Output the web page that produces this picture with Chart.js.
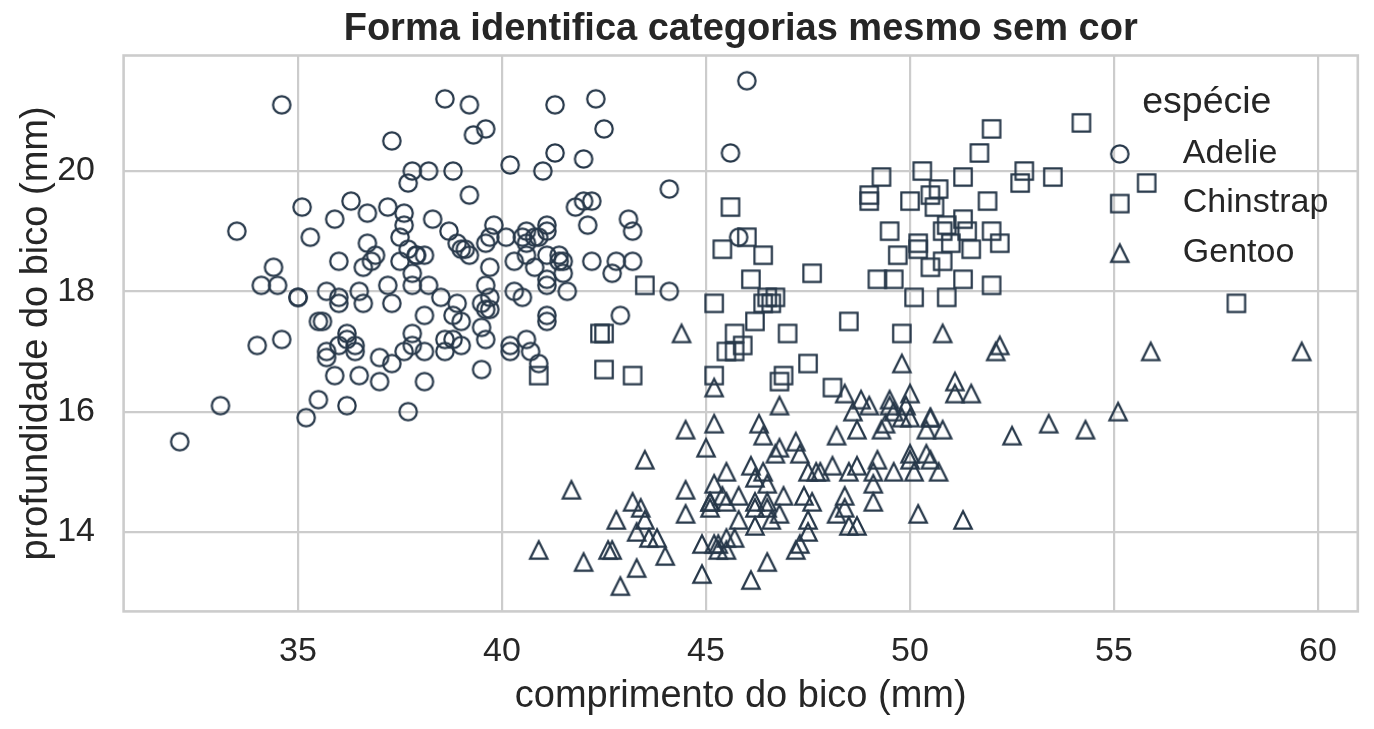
<!DOCTYPE html>
<html lang="pt">
<head>
<meta charset="utf-8">
<title>Forma identifica categorias mesmo sem cor</title>
<script src="https://cdn.jsdelivr.net/npm/chart.js@4.4.1/dist/chart.umd.min.js"></script>
<style>
  html, body { margin: 0; padding: 0; background: #ffffff; overflow: hidden; }
  canvas { display: block; }
</style>
</head>
<body>
<canvas id="penguinChart" width="1374" height="729"></canvas>
<script>
// comprimento x profundidade do bico, por espécie
const adelieLength = [39.1, 39.5, 40.3, 36.7, 39.3, 38.9, 39.2, 34.1, 42.0, 37.8, 37.8, 41.1, 38.6, 34.6, 36.6, 38.7, 42.5, 34.4, 46.0, 37.8,
  37.7, 35.9, 38.2, 38.8, 35.3, 40.6, 40.5, 37.9, 40.5, 39.5, 37.2, 39.5, 40.9, 36.4, 39.2, 38.8, 42.2, 37.6, 39.8, 36.5,
  40.8, 36.0, 44.1, 37.0, 39.6, 41.1, 37.5, 36.0, 42.3, 39.6, 40.1, 35.0, 42.0, 34.5, 41.4, 39.0, 40.6, 36.5, 37.6, 35.7,
  41.3, 37.6, 41.1, 36.4, 41.6, 35.5, 41.1, 35.9, 41.8, 33.5, 39.7, 39.6, 45.8, 35.5, 42.8, 40.9, 37.2, 36.2, 42.1, 34.6,
  42.9, 36.7, 35.1, 37.3, 41.3, 36.3, 36.9, 38.3, 38.9, 35.7, 41.1, 34.0, 39.6, 36.2, 40.8, 38.1, 40.3, 33.1, 43.2, 35.0,
  41.0, 37.7, 37.8, 37.9, 39.7, 38.6, 38.2, 38.1, 43.2, 38.1, 45.6, 39.7, 42.2, 39.6, 42.7, 38.6, 37.3, 35.7, 41.1, 36.2,
  37.7, 40.2, 41.4, 35.2, 40.6, 38.8, 41.5, 39.0, 44.1, 38.5, 43.1, 36.8, 37.5, 38.1, 41.1, 35.6, 40.2, 37.0, 39.7, 40.2,
  40.6, 32.1, 40.7, 37.3, 39.0, 39.2, 36.6, 36.0, 37.8, 36.0, 41.5];
const adelieDepth = [18.7, 17.4, 18.0, 19.3, 20.6, 17.8, 19.6, 18.1, 20.2, 17.1, 17.3, 17.6, 21.2, 21.1, 17.8, 19.0, 20.7, 18.4, 21.5, 18.3,
  18.7, 19.2, 18.1, 17.2, 18.9, 18.6, 17.9, 18.6, 18.9, 16.7, 18.1, 17.8, 18.9, 17.0, 21.1, 20.0, 18.5, 19.3, 19.1, 18.0,
  18.4, 18.5, 19.7, 16.9, 18.8, 19.0, 18.9, 17.9, 21.2, 17.7, 18.9, 17.9, 19.5, 18.1, 18.6, 17.5, 18.8, 16.6, 19.1, 16.9,
  21.1, 17.0, 18.2, 17.1, 18.0, 16.2, 19.1, 16.6, 19.4, 19.0, 18.4, 17.2, 18.9, 17.5, 18.5, 16.8, 19.4, 16.1, 19.1, 17.2,
  17.6, 18.8, 19.4, 17.8, 20.3, 19.5, 18.6, 19.2, 18.8, 18.0, 18.1, 17.1, 18.1, 17.3, 18.9, 18.6, 18.5, 16.1, 18.5, 17.9,
  20.0, 16.0, 20.0, 18.6, 18.9, 17.2, 20.0, 17.0, 19.0, 16.5, 20.3, 17.7, 19.5, 20.7, 18.3, 17.0, 20.5, 17.0, 18.6, 17.2,
  19.8, 17.0, 18.5, 15.9, 19.0, 17.6, 18.3, 17.1, 18.0, 17.9, 19.2, 18.5, 18.5, 17.6, 17.5, 17.5, 20.1, 16.5, 17.9, 17.1,
  17.2, 15.5, 17.0, 16.8, 18.7, 18.6, 18.4, 17.8, 18.1, 17.1, 18.5];

const chinstrapLength = [46.5, 50.0, 51.3, 45.4, 52.7, 45.2, 46.1, 51.3, 46.0, 51.3, 46.6, 51.7, 47.0, 52.0, 45.9, 50.5, 50.3, 58.0, 46.4, 49.2,
  42.4, 48.5, 43.2, 50.6, 46.7, 52.0, 50.5, 49.5, 46.4, 52.8, 40.9, 54.2, 42.5, 51.0, 49.7, 47.5, 47.6, 52.0, 46.9, 53.5,
  49.0, 46.2, 50.9, 45.5, 50.9, 50.8, 50.1, 49.0, 51.5, 49.8, 48.1, 51.4, 45.7, 50.7, 42.5, 52.2, 45.2, 49.3, 50.2, 45.6,
  51.9, 46.8, 45.7, 55.8, 43.5, 49.6, 50.8, 50.2];
const chinstrapDepth = [17.9, 19.5, 19.2, 18.7, 19.8, 17.8, 18.2, 18.2, 18.9, 19.9, 17.8, 20.3, 17.3, 18.1, 17.1, 19.6, 20.0, 17.8, 18.6, 18.2,
  17.3, 17.5, 16.6, 19.4, 17.9, 19.0, 18.4, 19.0, 17.8, 20.0, 16.6, 20.8, 16.7, 18.8, 18.6, 16.8, 18.3, 20.7, 16.6, 19.9,
  19.5, 17.5, 19.1, 17.0, 17.9, 18.5, 17.9, 19.6, 18.7, 17.3, 16.4, 19.0, 17.3, 19.7, 17.3, 18.8, 16.6, 19.9, 18.8, 19.4,
  19.5, 16.5, 17.0, 19.8, 18.1, 18.2, 19.0, 18.7];

const gentooLength = [46.1, 50.0, 48.7, 50.0, 47.6, 46.5, 45.4, 46.7, 43.3, 46.8, 40.9, 49.0, 45.5, 48.4, 45.8, 49.3, 42.0, 49.2, 46.2, 48.7,
  50.2, 45.1, 46.5, 46.3, 42.9, 46.1, 44.5, 47.8, 48.2, 50.0, 47.3, 42.8, 45.1, 59.6, 49.1, 48.4, 42.6, 44.4, 44.0, 48.7,
  42.7, 49.6, 45.3, 49.6, 50.5, 43.6, 45.5, 50.5, 44.9, 45.2, 46.6, 48.5, 45.1, 50.1, 46.5, 45.0, 43.8, 45.5, 43.2, 50.4,
  45.3, 46.2, 45.7, 54.3, 45.8, 49.8, 46.2, 49.5, 43.5, 50.7, 47.7, 46.4, 48.2, 46.5, 46.4, 48.6, 47.5, 51.1, 45.2, 45.2,
  49.1, 52.5, 47.4, 50.0, 44.9, 50.8, 43.4, 51.3, 47.5, 52.1, 47.5, 52.2, 45.5, 49.5, 44.5, 50.8, 49.4, 46.9, 48.4, 51.1,
  48.5, 55.9, 47.2, 49.1, 47.3, 46.8, 41.7, 53.4, 43.3, 48.1, 50.5, 49.8, 43.5, 51.5, 46.2, 55.1, 44.5, 48.8, 47.2, 46.8,
  50.4, 45.2, 49.9];
const gentooDepth = [13.2, 16.3, 14.1, 15.2, 14.5, 13.5, 14.6, 15.3, 13.4, 15.4, 13.7, 16.1, 13.7, 14.6, 14.6, 15.7, 13.5, 15.2, 14.5, 15.1,
  14.3, 14.5, 14.5, 15.8, 13.1, 15.1, 14.3, 15.0, 14.3, 15.3, 15.3, 14.2, 14.5, 17.0, 14.8, 16.3, 13.7, 17.3, 13.6, 15.7,
  13.7, 16.0, 13.7, 15.0, 15.9, 13.9, 13.9, 15.9, 13.3, 15.8, 14.2, 14.1, 14.4, 15.0, 14.4, 15.4, 13.9, 15.0, 14.5, 15.3,
  13.8, 14.9, 13.9, 15.7, 14.2, 16.8, 14.4, 16.2, 14.2, 15.0, 15.0, 15.6, 15.6, 14.8, 15.0, 16.0, 14.2, 16.3, 13.8, 16.4,
  14.5, 15.6, 14.6, 15.9, 13.8, 17.3, 14.4, 14.2, 14.0, 17.0, 15.0, 17.1, 14.5, 16.1, 14.7, 15.7, 15.8, 14.6, 14.4, 16.5,
  15.0, 17.0, 15.5, 15.0, 13.8, 16.1, 14.7, 15.8, 14.0, 15.1, 15.2, 15.9, 15.2, 16.3, 14.1, 16.0, 15.7, 16.2, 13.7, 14.3,
  15.7, 14.8, 16.1];

const species = ['Adelie', 'Chinstrap', 'Gentoo'];
const xTicks = [35, 40, 45, 50, 55, 60];
const yTicks = [14, 16, 18, 20];

const markColor = '#27384a';
const textColor = '#262626';
const gridColor = '#cccccc';
const family = "'Liberation Sans', Arial, sans-serif";

Chart.defaults.font.family = family;
Chart.defaults.color = textColor;

// marcadores vazados no estilo do matplotlib (o, s, ^)
const makeMarker = (shape) => {
  const c = document.createElement('canvas');
  c.width = 28;
  c.height = 28;
  const g = c.getContext('2d');
  const h = 8.7;
  g.strokeStyle = markColor;
  g.lineWidth = 2.2;
  g.lineJoin = 'miter';
  g.beginPath();
  if (shape === 'circle') {
    g.arc(14, 14, h, 0, Math.PI * 2);
  } else if (shape === 'square') {
    g.rect(14 - h, 14 - h, 2 * h, 2 * h);
  } else {
    g.moveTo(14, 14 - h);
    g.lineTo(14 - h, 14 + h);
    g.lineTo(14 + h, 14 + h);
    g.closePath();
  }
  g.stroke();
  return c;
};
const markers = [makeMarker('circle'), makeMarker('square'), makeMarker('triangle')];

const toPoints = (xs, ys) => xs.map((x, i) => ({ x: x, y: ys[i] }));

const frame = {
  id: 'frame',
  afterDatasetsDraw(chart) {
    const { ctx, chartArea: a } = chart;
    ctx.save();
    ctx.strokeStyle = gridColor;
    ctx.lineWidth = 2.6;
    ctx.strokeRect(a.left, a.top, a.right - a.left, a.bottom - a.top);
    ctx.restore();
  }
};

const speciesLegend = {
  id: 'speciesLegend',
  afterDraw(chart) {
    const { ctx, chartArea: a } = chart;
    const markX = a.right - 238;
    const textX = a.right - 175;
    ctx.save();
    ctx.fillStyle = textColor;
    ctx.textBaseline = 'alphabetic';
    ctx.textAlign = 'center';
    ctx.font = `37.5px ${family}`;
    ctx.fillText('espécie', a.right - 151, 113);
    ctx.textAlign = 'left';
    ctx.font = `34px ${family}`;
    species.forEach((name, i) => {
      const y = 154 + i * 49.6;
      ctx.drawImage(markers[i], markX - 14, y - 14);
      ctx.fillText(name, textX, y + 8.6);
    });
    ctx.restore();
  }
};

new Chart(document.getElementById('penguinChart'), {
  type: 'scatter',
  data: {
    datasets: [
      { label: species[0], data: toPoints(adelieLength, adelieDepth), pointStyle: markers[0] },
      { label: species[1], data: toPoints(chinstrapLength, chinstrapDepth), pointStyle: markers[1] },
      { label: species[2], data: toPoints(gentooLength, gentooDepth), pointStyle: markers[2] }
    ]
  },
  options: {
    responsive: false,
    animation: false,
    events: [],
    layout: { padding: { left: 0, right: 16.2, top: 0, bottom: 0 } },
    plugins: {
      legend: { display: false },
      tooltip: { enabled: false },
      title: {
        display: true,
        fullSize: false,
        text: 'Forma identifica categorias mesmo sem cor',
        color: textColor,
        font: { size: 38, weight: 'bold' },
        padding: { top: 7, bottom: 2.9 }
      }
    },
    scales: {
      x: {
        type: 'linear',
        min: 30.725,
        max: 60.975,
        afterBuildTicks: (axis) => { axis.ticks = xTicks.map((v) => ({ value: v })); },
        afterFit: (axis) => { axis.height = 117.6; },
        ticks: { font: { size: 34 }, color: textColor, padding: 20, callback: (v) => String(v) },
        grid: { color: gridColor, lineWidth: 2.2, drawTicks: false },
        border: { display: false },
        title: {
          display: true,
          text: 'comprimento do bico (mm)',
          color: textColor,
          font: { size: 38 },
          padding: { top: 0, bottom: 9.5 }
        }
      },
      y: {
        type: 'linear',
        min: 12.68,
        max: 21.92,
        afterBuildTicks: (axis) => { axis.ticks = yTicks.map((v) => ({ value: v })); },
        afterFit: (axis) => { axis.width = 123.6; },
        ticks: { font: { size: 34 }, color: textColor, padding: 28.6, callback: (v) => String(v) },
        grid: { color: gridColor, lineWidth: 2.2, drawTicks: false },
        border: { display: false },
        title: {
          display: true,
          text: 'profundidade do bico (mm)',
          color: textColor,
          font: { size: 38 },
          padding: { top: 13.5, bottom: 0 }
        }
      }
    }
  },
  plugins: [frame, speciesLegend]
});
</script>
</body>
</html>
